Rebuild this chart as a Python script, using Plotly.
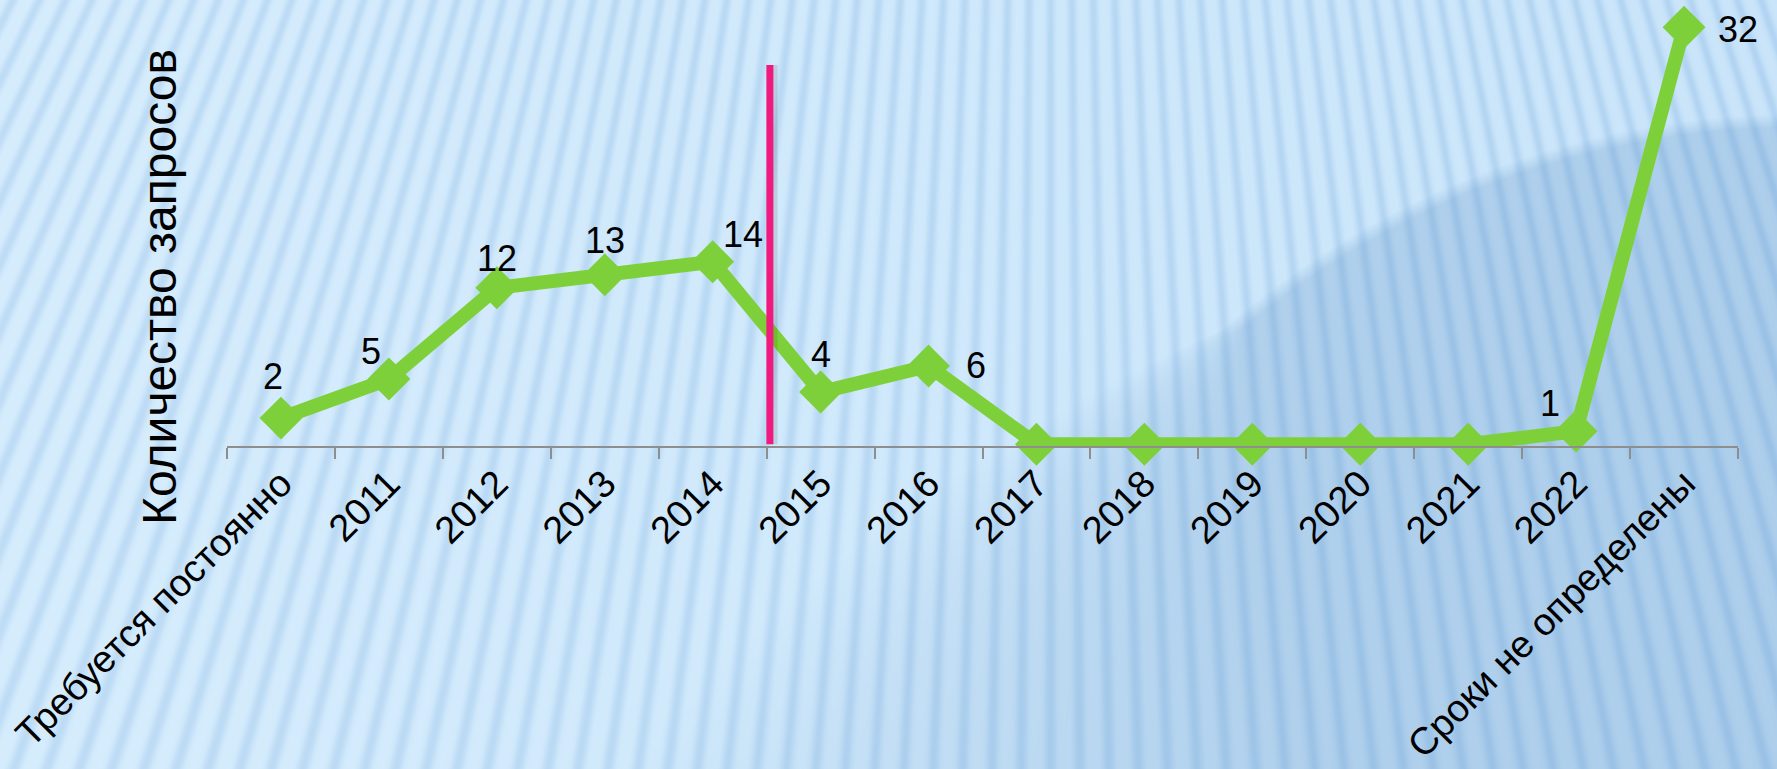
import base64
import struct
import zlib

import numpy as np
import plotly.graph_objects as go

# ---------------- data ----------------
categories = ["Требуется постоянно", "2011", "2012", "2013", "2014", "2015", "2016",
              "2017", "2018", "2019", "2020", "2021", "2022", "Сроки не определены"]
values = [2, 5, 12, 13, 14, 4, 6, 0, 0, 0, 0, 0, 1, 32]
y_title = "Количество запросов"

# label offsets (pixels) for each data label, styling only
label_dx = [-8, -18, 0, 0, 30, 0, 47, 0, 0, 0, 0, 0, -26, 54]
label_dy = [42, 28, 29, 34, 27, 38, 0, 0, 0, 0, 0, 0, 28, -2]

W, H = 1777, 769
L_M, R_M, T_M, B_M = 227, 39, 10, 323
PW, PH = W - L_M - R_M, H - T_M - B_M

GREEN = "#7ED03A"
PINK = "#F0197D"
AXIS = "#8E8E8E"
FONT = "Arial, Liberation Sans, sans-serif"


# ---------------- decorative background (png) ----------------
def make_background():
    yy, xx = np.mgrid[0:H, 0:W].astype(np.float64)
    theta = np.arctan2(xx - 1050.0, yy + 2100.0)
    period = 0.0102
    phase = (theta / period) % 1.0
    s = (0.5 * (1 + np.cos(2 * np.pi * phase))) ** 2.2

    t = xx / W
    base_out = np.stack([214 - 12 * t, 237 - 8 * t, 253 - 3 * t], axis=-1)
    dark_out = np.array([24, 17, 8.0])
    base_in = np.stack([182 - 8 * t, 212 - 5 * t, 238 - 2 * t], axis=-1)
    dark_in = np.array([20, 13, 6.0])

    d = np.sqrt((xx - 1800.0) ** 2 + (yy - 1000.0) ** 2)
    soft = 14.0 + np.maximum(0, yy - 330.0) * 1.5
    m = np.clip((880.0 - d) / soft + 0.5, 0, 1)[..., None]
    base = base_out * (1 - m) + base_in * m
    dark = dark_out * (1 - m) + dark_in * m
    img = base - dark * s[..., None]
    img = np.clip(img, 0, 255).astype(np.uint8)

    raw = np.concatenate([np.zeros((H, 1), np.uint8), img.reshape(H, W * 3)], axis=1).tobytes()

    def chunk(tag, data):
        c = struct.pack(">I", len(data)) + tag + data
        return c + struct.pack(">I", zlib.crc32(tag + data) & 0xFFFFFFFF)

    png = b"\x89PNG\r\n\x1a\n"
    png += chunk(b"IHDR", struct.pack(">IIBBBBB", W, H, 8, 2, 0, 0, 0))
    png += chunk(b"IDAT", zlib.compress(raw, 9))
    png += chunk(b"IEND", b"")
    return "data:image/png;base64," + base64.b64encode(png).decode()


fig = go.Figure()

fig.add_trace(go.Scatter(
    x=categories, y=values,
    mode="lines+markers",
    line=dict(color=GREEN, width=14),
    marker=dict(symbol="diamond", size=33, color=GREEN, line=dict(width=0)),
    cliponaxis=False,
    hoverinfo="x+y",
))

# data labels (category index used as x so year names are not read as numbers)
for i, v in enumerate(values):
    if v == 0:
        continue
    fig.add_annotation(
        x=i, y=v, xref="x", yref="y", text=str(v), showarrow=False,
        xshift=label_dx[i], yshift=label_dy[i],
        font=dict(family=FONT, size=36, color="black"),
    )

# vertical separator between 2014 and 2015
sep_x = categories.index("2015") - 0.47
fig.add_shape(type="line", xref="x", yref="y", x0=sep_x + 0.025, x1=sep_x + 0.025, y0=0, y1=29.1,
              line=dict(color="rgba(0,0,0,0.10)", width=10), layer="above")
fig.add_shape(type="line", xref="x", yref="y", x0=sep_x, x1=sep_x, y0=0, y1=29.1,
              line=dict(color=PINK, width=7), layer="above")

# y axis title
fig.add_annotation(
    text=y_title, textangle=-90, showarrow=False,
    xref="paper", yref="paper",
    x=(159 - L_M) / PW, y=(PH + T_M - 287) / PH,
    xanchor="center", yanchor="middle",
    font=dict(family=FONT, size=48, color="black"),
)

fig.update_layout(
    width=W, height=H,
    margin=dict(l=L_M, r=R_M, t=T_M, b=B_M, pad=0, autoexpand=False),
    paper_bgcolor="#D3EBFC",
    plot_bgcolor="rgba(0,0,0,0)",
    showlegend=False,
    font=dict(family=FONT, color="black"),
    images=[dict(
        source=make_background(), xref="paper", yref="paper",
        x=-L_M / PW, y=1 + T_M / PH, sizex=W / PW, sizey=H / PH,
        xanchor="left", yanchor="top", sizing="stretch", layer="below",
    )],
    xaxis=dict(
        type="category", range=[-0.5, len(categories) - 0.5],
        tickson="boundaries", ticks="outside", ticklen=11, tickwidth=2, tickcolor=AXIS,
        showline=True, linecolor=AXIS, linewidth=2,
        showgrid=False, zeroline=False, automargin=False,
        tickangle=-45, tickfont=dict(family=FONT, size=38, color="black"),
        ticklabelstandoff=-2,
    ),
    yaxis=dict(
        range=[-0.14, 33.32], visible=False, showgrid=False, zeroline=False,
        automargin=False,
    ),
)

fig.write_html(
    "out.html",
    config={"displayModeBar": False},
    post_script="document.body.style.margin='0';document.body.style.padding='0';"
                "document.body.style.overflow='hidden';",
)
